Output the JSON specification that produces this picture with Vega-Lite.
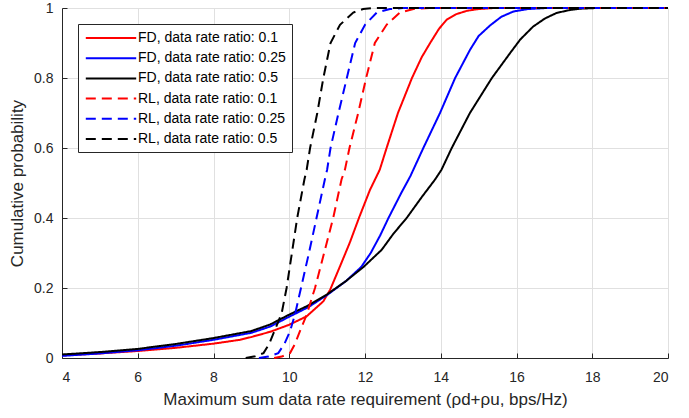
{
  "$schema": "https://vega.github.io/schema/vega-lite/v6.json",
  "width": 606,
  "height": 350,
  "autosize": {"type": "none"},
  "padding": {"left": 62, "top": 8, "right": 21, "bottom": 60},
  "background": "white",
  "config": {
    "view": {"stroke": null},
    "font": "Liberation Sans",
    "axis": {
      "domainColor": "#262626",
      "domainWidth": 1,
      "tickColor": "#262626",
      "tickSize": -5,
      "tickWidth": 1,
      "gridColor": "#e0e0e0",
      "gridWidth": 1,
      "labelColor": "#262626",
      "labelFontSize": 14,
      "labelFont": "Liberation Sans",
      "titleColor": "#262626",
      "titleFontSize": 17,
      "titleFontWeight": "normal",
      "titleFont": "Liberation Sans"
    }
  },
  "data": {
    "values": [
      {"s": "FD, data rate ratio: 0.1", "x": 4, "y": 0.0075},
      {"s": "FD, data rate ratio: 0.1", "x": 5, "y": 0.013},
      {"s": "FD, data rate ratio: 0.1", "x": 6, "y": 0.02},
      {"s": "FD, data rate ratio: 0.1", "x": 7, "y": 0.029},
      {"s": "FD, data rate ratio: 0.1", "x": 8, "y": 0.041},
      {"s": "FD, data rate ratio: 0.1", "x": 8.7, "y": 0.052},
      {"s": "FD, data rate ratio: 0.1", "x": 9, "y": 0.06},
      {"s": "FD, data rate ratio: 0.1", "x": 9.5, "y": 0.075},
      {"s": "FD, data rate ratio: 0.1", "x": 10, "y": 0.095},
      {"s": "FD, data rate ratio: 0.1", "x": 10.46, "y": 0.119},
      {"s": "FD, data rate ratio: 0.1", "x": 10.9, "y": 0.162},
      {"s": "FD, data rate ratio: 0.1", "x": 11.08, "y": 0.195},
      {"s": "FD, data rate ratio: 0.1", "x": 11.34, "y": 0.262},
      {"s": "FD, data rate ratio: 0.1", "x": 11.6, "y": 0.33},
      {"s": "FD, data rate ratio: 0.1", "x": 11.84, "y": 0.4},
      {"s": "FD, data rate ratio: 0.1", "x": 12.13, "y": 0.48},
      {"s": "FD, data rate ratio: 0.1", "x": 12.39, "y": 0.538},
      {"s": "FD, data rate ratio: 0.1", "x": 12.57, "y": 0.6},
      {"s": "FD, data rate ratio: 0.1", "x": 12.87, "y": 0.7},
      {"s": "FD, data rate ratio: 0.1", "x": 13.24, "y": 0.8},
      {"s": "FD, data rate ratio: 0.1", "x": 13.5, "y": 0.86},
      {"s": "FD, data rate ratio: 0.1", "x": 13.72, "y": 0.9},
      {"s": "FD, data rate ratio: 0.1", "x": 13.95, "y": 0.94},
      {"s": "FD, data rate ratio: 0.1", "x": 14.16, "y": 0.967},
      {"s": "FD, data rate ratio: 0.1", "x": 14.4, "y": 0.982},
      {"s": "FD, data rate ratio: 0.1", "x": 14.69, "y": 0.992},
      {"s": "FD, data rate ratio: 0.1", "x": 15.0, "y": 0.997},
      {"s": "FD, data rate ratio: 0.1", "x": 15.4, "y": 1.0},
      {"s": "FD, data rate ratio: 0.1", "x": 20, "y": 1.0},

      {"s": "FD, data rate ratio: 0.25", "x": 4, "y": 0.006},
      {"s": "FD, data rate ratio: 0.25", "x": 5, "y": 0.013},
      {"s": "FD, data rate ratio: 0.25", "x": 6, "y": 0.022},
      {"s": "FD, data rate ratio: 0.25", "x": 7, "y": 0.035},
      {"s": "FD, data rate ratio: 0.25", "x": 8, "y": 0.052},
      {"s": "FD, data rate ratio: 0.25", "x": 9, "y": 0.072},
      {"s": "FD, data rate ratio: 0.25", "x": 9.5, "y": 0.09},
      {"s": "FD, data rate ratio: 0.25", "x": 10, "y": 0.118},
      {"s": "FD, data rate ratio: 0.25", "x": 10.5, "y": 0.145},
      {"s": "FD, data rate ratio: 0.25", "x": 11, "y": 0.18},
      {"s": "FD, data rate ratio: 0.25", "x": 11.5, "y": 0.22},
      {"s": "FD, data rate ratio: 0.25", "x": 11.9, "y": 0.26},
      {"s": "FD, data rate ratio: 0.25", "x": 12.15, "y": 0.3},
      {"s": "FD, data rate ratio: 0.25", "x": 12.4, "y": 0.35},
      {"s": "FD, data rate ratio: 0.25", "x": 12.62, "y": 0.4},
      {"s": "FD, data rate ratio: 0.25", "x": 12.95, "y": 0.47},
      {"s": "FD, data rate ratio: 0.25", "x": 13.2, "y": 0.52},
      {"s": "FD, data rate ratio: 0.25", "x": 13.54, "y": 0.6},
      {"s": "FD, data rate ratio: 0.25", "x": 13.98, "y": 0.7},
      {"s": "FD, data rate ratio: 0.25", "x": 14.38, "y": 0.8},
      {"s": "FD, data rate ratio: 0.25", "x": 14.77, "y": 0.88},
      {"s": "FD, data rate ratio: 0.25", "x": 15.0, "y": 0.92},
      {"s": "FD, data rate ratio: 0.25", "x": 15.3, "y": 0.95},
      {"s": "FD, data rate ratio: 0.25", "x": 15.6, "y": 0.975},
      {"s": "FD, data rate ratio: 0.25", "x": 15.92, "y": 0.99},
      {"s": "FD, data rate ratio: 0.25", "x": 16.3, "y": 0.997},
      {"s": "FD, data rate ratio: 0.25", "x": 16.8, "y": 1.0},
      {"s": "FD, data rate ratio: 0.25", "x": 20, "y": 1.0},

      {"s": "FD, data rate ratio: 0.5", "x": 4, "y": 0.01},
      {"s": "FD, data rate ratio: 0.5", "x": 5, "y": 0.017},
      {"s": "FD, data rate ratio: 0.5", "x": 6, "y": 0.026},
      {"s": "FD, data rate ratio: 0.5", "x": 7, "y": 0.04},
      {"s": "FD, data rate ratio: 0.5", "x": 8, "y": 0.057},
      {"s": "FD, data rate ratio: 0.5", "x": 9, "y": 0.077},
      {"s": "FD, data rate ratio: 0.5", "x": 9.5, "y": 0.096},
      {"s": "FD, data rate ratio: 0.5", "x": 10, "y": 0.124},
      {"s": "FD, data rate ratio: 0.5", "x": 10.5, "y": 0.15},
      {"s": "FD, data rate ratio: 0.5", "x": 11, "y": 0.182},
      {"s": "FD, data rate ratio: 0.5", "x": 11.5, "y": 0.22},
      {"s": "FD, data rate ratio: 0.5", "x": 11.96, "y": 0.26},
      {"s": "FD, data rate ratio: 0.5", "x": 12.44, "y": 0.309},
      {"s": "FD, data rate ratio: 0.5", "x": 12.75, "y": 0.355},
      {"s": "FD, data rate ratio: 0.5", "x": 13.1, "y": 0.4},
      {"s": "FD, data rate ratio: 0.5", "x": 13.5, "y": 0.46},
      {"s": "FD, data rate ratio: 0.5", "x": 13.85, "y": 0.51},
      {"s": "FD, data rate ratio: 0.5", "x": 14.02, "y": 0.538},
      {"s": "FD, data rate ratio: 0.5", "x": 14.29, "y": 0.6},
      {"s": "FD, data rate ratio: 0.5", "x": 14.77, "y": 0.7},
      {"s": "FD, data rate ratio: 0.5", "x": 15.35, "y": 0.8},
      {"s": "FD, data rate ratio: 0.5", "x": 15.83, "y": 0.871},
      {"s": "FD, data rate ratio: 0.5", "x": 16.1, "y": 0.91},
      {"s": "FD, data rate ratio: 0.5", "x": 16.44, "y": 0.947},
      {"s": "FD, data rate ratio: 0.5", "x": 16.75, "y": 0.97},
      {"s": "FD, data rate ratio: 0.5", "x": 17.06, "y": 0.986},
      {"s": "FD, data rate ratio: 0.5", "x": 17.4, "y": 0.994},
      {"s": "FD, data rate ratio: 0.5", "x": 17.68, "y": 0.998},
      {"s": "FD, data rate ratio: 0.5", "x": 18.1, "y": 1.0},
      {"s": "FD, data rate ratio: 0.5", "x": 20, "y": 1.0},

      {"s": "RL, data rate ratio: 0.1", "x": 9.6, "y": 0},
      {"s": "RL, data rate ratio: 0.1", "x": 9.8, "y": 0.004},
      {"s": "RL, data rate ratio: 0.1", "x": 10.02, "y": 0.014},
      {"s": "RL, data rate ratio: 0.1", "x": 10.15, "y": 0.04},
      {"s": "RL, data rate ratio: 0.1", "x": 10.28, "y": 0.076},
      {"s": "RL, data rate ratio: 0.1", "x": 10.46, "y": 0.124},
      {"s": "RL, data rate ratio: 0.1", "x": 10.68, "y": 0.2},
      {"s": "RL, data rate ratio: 0.1", "x": 10.92, "y": 0.3},
      {"s": "RL, data rate ratio: 0.1", "x": 11.16, "y": 0.4},
      {"s": "RL, data rate ratio: 0.1", "x": 11.38, "y": 0.51},
      {"s": "RL, data rate ratio: 0.1", "x": 11.47, "y": 0.538},
      {"s": "RL, data rate ratio: 0.1", "x": 11.59, "y": 0.6},
      {"s": "RL, data rate ratio: 0.1", "x": 11.82, "y": 0.7},
      {"s": "RL, data rate ratio: 0.1", "x": 12.03, "y": 0.8},
      {"s": "RL, data rate ratio: 0.1", "x": 12.26, "y": 0.9},
      {"s": "RL, data rate ratio: 0.1", "x": 12.57, "y": 0.952},
      {"s": "RL, data rate ratio: 0.1", "x": 12.92, "y": 0.987},
      {"s": "RL, data rate ratio: 0.1", "x": 13.28, "y": 0.997},
      {"s": "RL, data rate ratio: 0.1", "x": 13.7, "y": 1.0},
      {"s": "RL, data rate ratio: 0.1", "x": 20, "y": 1.0},

      {"s": "RL, data rate ratio: 0.25", "x": 9.2, "y": 0},
      {"s": "RL, data rate ratio: 0.25", "x": 9.45, "y": 0.004},
      {"s": "RL, data rate ratio: 0.25", "x": 9.71, "y": 0.014},
      {"s": "RL, data rate ratio: 0.25", "x": 9.87, "y": 0.04},
      {"s": "RL, data rate ratio: 0.25", "x": 10.02, "y": 0.076},
      {"s": "RL, data rate ratio: 0.25", "x": 10.15, "y": 0.124},
      {"s": "RL, data rate ratio: 0.25", "x": 10.31, "y": 0.2},
      {"s": "RL, data rate ratio: 0.25", "x": 10.52, "y": 0.3},
      {"s": "RL, data rate ratio: 0.25", "x": 10.72, "y": 0.4},
      {"s": "RL, data rate ratio: 0.25", "x": 10.94, "y": 0.51},
      {"s": "RL, data rate ratio: 0.25", "x": 11.0, "y": 0.538},
      {"s": "RL, data rate ratio: 0.25", "x": 11.09, "y": 0.6},
      {"s": "RL, data rate ratio: 0.25", "x": 11.3, "y": 0.7},
      {"s": "RL, data rate ratio: 0.25", "x": 11.52, "y": 0.8},
      {"s": "RL, data rate ratio: 0.25", "x": 11.74, "y": 0.9},
      {"s": "RL, data rate ratio: 0.25", "x": 12.0, "y": 0.952},
      {"s": "RL, data rate ratio: 0.25", "x": 12.31, "y": 0.987},
      {"s": "RL, data rate ratio: 0.25", "x": 12.66, "y": 0.997},
      {"s": "RL, data rate ratio: 0.25", "x": 13.0, "y": 1.0},
      {"s": "RL, data rate ratio: 0.25", "x": 20, "y": 1.0},

      {"s": "RL, data rate ratio: 0.5", "x": 8.85, "y": 0},
      {"s": "RL, data rate ratio: 0.5", "x": 9.1, "y": 0.005},
      {"s": "RL, data rate ratio: 0.5", "x": 9.32, "y": 0.014},
      {"s": "RL, data rate ratio: 0.5", "x": 9.47, "y": 0.04},
      {"s": "RL, data rate ratio: 0.5", "x": 9.62, "y": 0.08},
      {"s": "RL, data rate ratio: 0.5", "x": 9.8, "y": 0.128},
      {"s": "RL, data rate ratio: 0.5", "x": 9.93, "y": 0.2},
      {"s": "RL, data rate ratio: 0.5", "x": 10.07, "y": 0.3},
      {"s": "RL, data rate ratio: 0.5", "x": 10.21, "y": 0.4},
      {"s": "RL, data rate ratio: 0.5", "x": 10.4, "y": 0.51},
      {"s": "RL, data rate ratio: 0.5", "x": 10.46, "y": 0.538},
      {"s": "RL, data rate ratio: 0.5", "x": 10.55, "y": 0.6},
      {"s": "RL, data rate ratio: 0.5", "x": 10.74, "y": 0.7},
      {"s": "RL, data rate ratio: 0.5", "x": 10.9, "y": 0.8},
      {"s": "RL, data rate ratio: 0.5", "x": 11.09, "y": 0.9},
      {"s": "RL, data rate ratio: 0.5", "x": 11.34, "y": 0.952},
      {"s": "RL, data rate ratio: 0.5", "x": 11.69, "y": 0.987},
      {"s": "RL, data rate ratio: 0.5", "x": 11.95, "y": 0.997},
      {"s": "RL, data rate ratio: 0.5", "x": 12.2, "y": 1.0},
      {"s": "RL, data rate ratio: 0.5", "x": 20, "y": 1.0}
    ]
  },
  "mark": {"type": "line", "strokeWidth": 2, "clip": false},
  "encoding": {
    "x": {
      "field": "x",
      "type": "quantitative",
      "scale": {"domain": [4, 20], "nice": false, "zero": false},
      "axis": {
        "values": [4, 6, 8, 10, 12, 14, 16, 18, 20],
        "title": "Maximum sum data rate requirement (ρd+ρu, bps/Hz)",
        "labelPadding": 17,
        "titlePadding": 7
      }
    },
    "y": {
      "field": "y",
      "type": "quantitative",
      "scale": {"domain": [0, 1], "nice": false},
      "axis": {
        "values": [0, 0.2, 0.4, 0.6, 0.8, 1],
        "format": "~g",
        "title": "Cumulative probability",
        "labelPadding": 14,
        "titlePadding": 7
      }
    },
    "color": {
      "field": "s",
      "type": "nominal",
      "sort": null,
      "scale": {
        "domain": ["FD, data rate ratio: 0.1", "FD, data rate ratio: 0.25", "FD, data rate ratio: 0.5", "RL, data rate ratio: 0.1", "RL, data rate ratio: 0.25", "RL, data rate ratio: 0.5"],
        "range": ["#ff0000", "#0000ff", "#000000", "#ff0000", "#0000ff", "#000000"]
      },
      "legend": {
        "title": null,
        "orient": "none",
        "legendX": 16,
        "legendY": 16,
        "symbolType": "M-3.6,0H3.6",
        "symbolSize": 196,
        "symbolStrokeWidth": 2,
        "symbolOffset": 19,
        "labelFontSize": 14,
        "labelColor": "#000000",
        "labelFont": "Liberation Sans",
        "labelOffset": 19,
        "rowPadding": 5.2,
        "padding": 6,
        "strokeColor": "#262626",
        "fillColor": "white"
      }
    },
    "strokeDash": {
      "field": "s",
      "type": "nominal",
      "sort": null,
      "scale": {
        "domain": ["FD, data rate ratio: 0.1", "FD, data rate ratio: 0.25", "FD, data rate ratio: 0.5", "RL, data rate ratio: 0.1", "RL, data rate ratio: 0.25", "RL, data rate ratio: 0.5"],
        "range": [[1, 0], [1, 0], [1, 0], [10, 6], [10, 6], [10, 6]]
      },
      "legend": {
        "title": null,
        "orient": "none",
        "legendX": 16,
        "legendY": 16,
        "symbolType": "M-3.6,0H3.6",
        "symbolSize": 196,
        "symbolStrokeWidth": 2,
        "symbolOffset": 19,
        "labelFontSize": 14,
        "labelColor": "#000000",
        "labelFont": "Liberation Sans",
        "labelOffset": 19,
        "rowPadding": 5.2,
        "padding": 6,
        "strokeColor": "#262626",
        "fillColor": "white"
      }
    }
  }
}
